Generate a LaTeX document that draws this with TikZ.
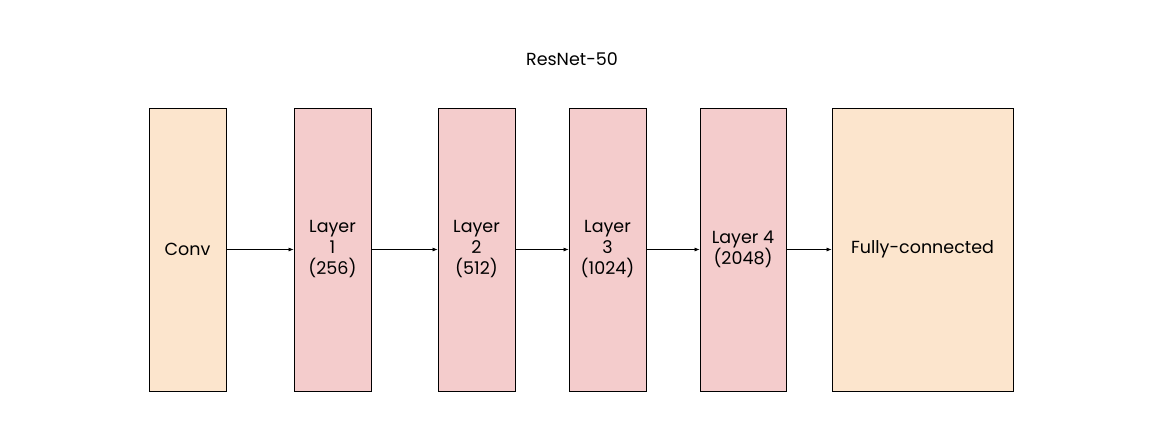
\documentclass[tikz,border=0pt]{standalone}
\usepackage{fontspec}
\setmainfont{Poppins}
\usetikzlibrary{arrows.meta}
\definecolor{convfill}{HTML}{FCE5CD}
\definecolor{layerfill}{HTML}{F4CCCC}
\tikzset{
  block/.style={draw, line width=0.8pt, minimum height=283pt, inner sep=0pt,
    align=center, font=\fontsize{17.5}{21}\selectfont},
  conv/.style={block, fill=convfill},
  layer/.style={block, fill=layerfill},
  link/.style={-{Latex[length=5pt,width=4pt]}, line width=0.7pt}
}

\begin{document}
\begin{tikzpicture}[x=1pt, y=-1pt]
  \useasboundingbox (0,0) rectangle (1163,431);
  \node[font=\fontsize{17.5}{21}\selectfont] (title) at (572,59) {ResNet-50};
  \node[conv, minimum width=77pt] (conv) at (187.5,249.5) {Conv};
  \node[layer, minimum width=77pt] (l1) at (332.5,249.5) {Layer\\1\\(256)};
  \node[layer, minimum width=77pt] (l2) at (476.5,249.5) {Layer\\2\\(512)};
  \node[layer, minimum width=77pt] (l3) at (607.5,249.5) {Layer\\3\\(1024)};
  \node[layer, minimum width=86pt] (l4) at (743,249.5) {Layer 4\\(2048)};
  \node[conv, minimum width=181pt] (fc) at (922.5,249.5) {Fully-connected};
  \draw[link] (conv) -- (l1);
  \draw[link] (l1) -- (l2);
  \draw[link] (l2) -- (l3);
  \draw[link] (l3) -- (l4);
  \draw[link] (l4) -- (fc);
\end{tikzpicture}
\end{document}
